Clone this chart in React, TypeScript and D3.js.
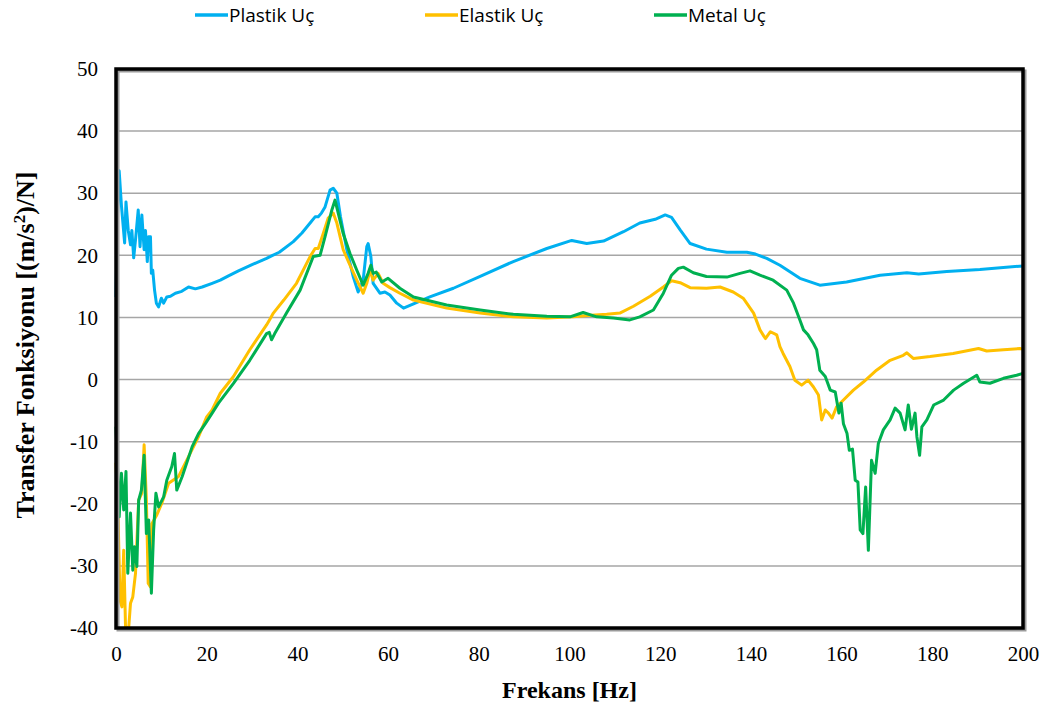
import React, { useEffect, useRef } from 'react'
import * as d3 from 'd3'

const W = 1049
const H = 711

// [frekans (Hz), transfer fonksiyonu]
const plastik: [number, number][] = [
  [0, 13.3], [0.3, 26], [0.7, 33.6], [1.2, 28], [1.9, 22], [2.2, 28.6], [2.7, 24], [3.2, 21.7], [3.5, 24],
  [3.9, 19.6], [4.3, 22.5], [4.9, 27.3], [5.3, 21.4], [5.7, 26.5], [6.2, 20.9], [6.5, 24], [6.9, 19], [7.2, 23],
  [7.6, 23], [7.8, 17.1], [8.1, 17.6], [8.5, 14.4], [8.9, 12.3], [9.4, 11.7], [10, 13.1], [10.5, 12.3], [11.2, 13.3],
  [12, 13.4], [13.1, 13.9], [14.5, 14.2], [16, 14.9], [17.5, 14.6], [19, 14.9], [21.2, 15.5], [23, 16], [24.8, 16.7],
  [27, 17.5], [30, 18.5], [33.2, 19.5], [34.3, 19.9], [36, 20.5], [39.1, 22.2], [41, 23.6], [42.8, 25.2], [43.9, 26.2],
  [44.6, 26.2], [45.3, 26.8], [46.1, 27.8], [47.2, 30.5], [47.9, 30.8], [48.7, 30], [49.5, 26.2], [50.9, 20.9],
  [52.3, 16.6], [53.4, 14.1], [54.5, 16], [55.3, 21.4], [55.6, 21.9], [56.2, 19.8], [56.7, 15.5], [58.2, 13.9],
  [59.3, 14.1], [60.4, 13.6], [61.9, 12.3], [63.4, 11.5], [65.6, 12.2], [69.2, 13.3], [74.4, 14.7], [80.3, 16.6],
  [87.6, 19], [95, 21.1], [100.5, 22.4], [103.8, 21.9], [107.5, 22.3], [111.9, 23.8], [115.5, 25.2], [118.9, 25.8],
  [121.1, 26.5], [122.5, 26.1], [124.4, 24.1], [126.6, 21.9], [130.2, 21], [134.7, 20.5], [139.1, 20.5], [141, 20.2],
  [143.5, 19.5], [146.4, 18.4], [150.8, 16.3], [155.2, 15.2], [161.1, 15.7], [168.5, 16.8], [174.4, 17.2], [177, 17],
  [183.2, 17.4], [190.5, 17.7], [200, 18.3],
]

const elastik: [number, number][] = [
  [0, -13.4], [0.4, -20.5], [0.9, -35.5], [1.3, -36.6], [1.7, -27.5], [2.1, -39.8], [2.8, -40], [3.2, -36], [3.7, -35],
  [4.3, -31.2], [5, -19.4], [5.7, -18.3], [6.2, -10.5], [6.7, -19.4], [7.1, -32.8], [7.6, -33.4], [7.9, -23.2],
  [9, -21.8], [10.1, -19.9], [11.6, -16.7], [13.8, -15.6], [16, -12.4], [18.2, -9.2], [20, -6], [21.2, -4.9],
  [23, -2.2], [25.9, 0.5], [29.5, 4.8], [33.2, 8.8], [34, 9.8], [34.7, 10.7], [37, 12.8], [39.8, 15.5], [42.8, 19.8],
  [43.9, 21.1], [44.6, 21.1], [45.7, 23.5], [46.8, 26], [47.9, 26.8], [48.7, 25.2], [50.1, 20.9], [51.6, 18.4],
  [53.1, 16], [54.5, 13.9], [55.3, 15.5], [56, 17.6], [56.7, 16], [57.8, 17.1], [58.9, 15.5], [60.4, 14.8],
  [62.6, 13.9], [65.6, 12.8], [72.9, 11.5], [80.3, 10.7], [87.6, 10.1], [95, 9.9], [100.8, 10.1], [104, 10.3],
  [108.2, 10.5], [111.1, 10.7], [114.1, 11.8], [117.8, 13.4], [120.7, 14.9], [122.5, 15.9], [124.4, 15.6],
  [126.6, 14.8], [130.2, 14.7], [133.2, 14.9], [136.1, 14.1], [138.3, 13.1], [140.6, 10.7], [142, 8], [143.2, 6.6],
  [144.3, 7.7], [145.7, 7.2], [146.4, 5.3], [147.1, 4.2], [148.6, 2.1], [149.7, -0.1], [151.2, -0.9], [152.6, -0.1],
  [153.8, -1.2], [154.9, -2.5], [155.6, -6.5], [156.4, -4.9], [157.1, -5.4], [157.9, -6.2], [158.9, -4.4],
  [160.4, -3.3], [162.6, -1.7], [164.8, -0.4], [167.7, 1.5], [170.7, 3.1], [173.6, 3.9], [174.4, 4.3], [175.8, 3.4],
  [179.5, 3.7], [184.6, 4.2], [190.2, 5], [192, 4.6], [195.7, 4.8], [199.3, 5], [200, 4.9],
]

const metal: [number, number][] = [
  [0, -7.6], [0.3, -13.4], [0.7, -22.1], [1.2, -15.1], [1.7, -21], [2.2, -14.8], [2.6, -31.2], [3.2, -21.5],
  [3.7, -30.7], [4.1, -26.9], [4.6, -30.1], [5, -19.4], [5.6, -17.8], [6.2, -12.2], [6.7, -24.8], [7.2, -22.6],
  [7.8, -34.4], [8.3, -24.2], [8.8, -18.3], [9.4, -20.5], [10.5, -18.9], [11.2, -16.2], [12.3, -14], [12.9, -11.9],
  [13.4, -17.8], [14.6, -15.6], [16.8, -10.8], [18.2, -8.7], [19.7, -7.1], [21.2, -5.4], [22.6, -3.8], [25.9, -0.6],
  [29.5, 3.1], [33.2, 7.4], [33.8, 7.6], [34.3, 6.4], [35, 7.4], [37.6, 10.7], [40.6, 14.4], [43.5, 19.8], [45, 20],
  [46.1, 23], [47.6, 27.3], [48.3, 28.9], [49, 26.8], [50.1, 23.5], [51.6, 20.3], [53.1, 17.6], [54.5, 15.2],
  [55.6, 17.1], [56.2, 18.4], [56.7, 17.1], [57.4, 17.3], [58.6, 15.7], [60, 16.3], [62.6, 14.7], [65.6, 13.3],
  [72.9, 12], [80.3, 11.2], [87.6, 10.5], [95, 10.2], [100.1, 10.1], [103, 10.8], [106, 10.1], [109.7, 9.9],
  [113.3, 9.6], [115.5, 10.1], [118.5, 11.2], [120.7, 13.9], [122.5, 16.8], [124, 17.9], [125.1, 18.1], [127.3, 17.2],
  [130.2, 16.6], [134.7, 16.5], [137.6, 17.1], [139.8, 17.5], [142, 16.8], [144.9, 16], [147.9, 14.4], [149.4, 12.3],
  [150.8, 9.6], [151.6, 8], [152.6, 7.2], [153.8, 5.8], [154.5, 4.8], [155.2, 1.5], [156.4, 0.5], [157.5, -1.7],
  [158.6, -2], [159.4, -5.4], [159.9, -3.8], [160.4, -7.1], [161.2, -8.7], [161.7, -11.4], [162.4, -11.2],
  [163, -16.2], [163.6, -16.5], [164.1, -24.2], [164.7, -24.8], [165.3, -17.3], [165.9, -27.5], [166.6, -13],
  [167.4, -15.1], [168.1, -10.3], [169.2, -8.1], [170.7, -6.5], [171.8, -4.6], [172.9, -5.4], [174, -8.1],
  [174.7, -4.1], [175.4, -8], [176.2, -5.4], [176.6, -9.2], [177.2, -12.2], [177.7, -7.6], [178.8, -6.5],
  [180.3, -4.1], [182.5, -3.3], [184.7, -1.7], [186.9, -0.6], [189.8, 0.7], [190.5, -0.4], [192.7, -0.6],
  [195.7, 0.2], [198.6, 0.7], [200, 1],
]

const xTicks = [0, 20, 40, 60, 80, 100, 120, 140, 160, 180, 200]
const yTicks = [-40, -30, -20, -10, 0, 10, 20, 30, 40, 50]

const series = [
  { name: 'Plastik Uç', data: plastik, color: '#00B0F0', lx: 195 },
  { name: 'Elastik Uç', data: elastik, color: '#FFC000', lx: 425 },
  { name: 'Metal Uç', data: metal, color: '#00B050', lx: 654 },
]

const margin = { left: 116, right: 26, top: 69, bottom: 83 }

export default function App() {
  const ref = useRef<SVGSVGElement>(null)

  useEffect(() => {
    const svg = d3.select(ref.current)
    svg.selectAll('*').remove()

    const x = d3.scaleLinear().domain([0, 200]).range([margin.left, W - margin.right])
    const y = d3.scaleLinear().domain([-40, 50]).range([H - margin.bottom, margin.top])
    const serif = '"Liberation Serif", "Times New Roman", serif'

    // grid
    svg.append('g')
      .selectAll('line')
      .data(yTicks)
      .enter()
      .append('line')
      .attr('x1', x(0))
      .attr('x2', x(200))
      .attr('y1', d => y(d))
      .attr('y2', d => y(d))
      .attr('stroke', '#a6a6a6')
      .attr('stroke-width', 1.5)

    const line = d3.line<[number, number]>()
      .x(d => x(d[0]))
      .y(d => y(d[1]))

    svg.append('g')
      .selectAll('path')
      .data(series)
      .enter()
      .append('path')
      .attr('d', d => line(d.data))
      .attr('fill', 'none')
      .attr('stroke', d => d.color)
      .attr('stroke-width', 3)
      .attr('stroke-linejoin', 'round')

    // frame with slight shadow
    const fx = x(0), fy = y(50), fw = x(200) - x(0), fh = y(-40) - y(50)
    svg.append('rect')
      .attr('x', fx + 2).attr('y', fy + 2).attr('width', fw).attr('height', fh)
      .attr('fill', 'none').attr('stroke', '#9a9a9a').attr('stroke-width', 3)
    svg.append('rect')
      .attr('x', fx).attr('y', fy).attr('width', fw).attr('height', fh)
      .attr('fill', 'none').attr('stroke', '#000').attr('stroke-width', 3.5)

    // axes (plain hyphen minus like the original)
    const fmt = (d: d3.NumberValue) => String(d)
    const yAxis = svg.append('g')
      .attr('transform', `translate(${x(0)},0)`)
      .call(d3.axisLeft(y).tickValues(yTicks).tickFormat(fmt).tickSize(0).tickPadding(18))
    yAxis.select('.domain').remove()
    yAxis.selectAll('text')
      .style('font-family', serif)
      .style('font-size', '21px')
      .attr('fill', '#000')

    const xAxis = svg.append('g')
      .attr('transform', `translate(0,${y(-40)})`)
      .call(d3.axisBottom(x).tickValues(xTicks).tickFormat(fmt).tickSize(0).tickPadding(18))
    xAxis.select('.domain').remove()
    xAxis.selectAll('text')
      .style('font-family', serif)
      .style('font-size', '21px')
      .attr('fill', '#000')

    svg.append('text')
      .attr('x', (x(0) + x(200)) / 2)
      .attr('y', 698)
      .attr('text-anchor', 'middle')
      .style('font-family', serif)
      .style('font-weight', 'bold')
      .style('font-size', '24px')
      .text('Frekans [Hz]')

    const yl = svg.append('text')
      .attr('transform', `translate(34,345) rotate(-90)`)
      .attr('text-anchor', 'middle')
      .style('font-family', serif)
      .style('font-weight', 'bold')
      .style('font-size', '26px')
    yl.append('tspan').text('Transfer Fonksiyonu  [(m/s')
    yl.append('tspan').attr('dy', -9).style('font-size', '17px').text('2')
    yl.append('tspan').attr('dy', 9).text(')/N]')

    // legend
    const lg = svg.append('g')
    series.forEach(s => {
      lg.append('line')
        .attr('x1', s.lx).attr('x2', s.lx + 33)
        .attr('y1', 15).attr('y2', 15)
        .attr('stroke', s.color).attr('stroke-width', 3.5)
      lg.append('text')
        .attr('x', s.lx + 34)
        .attr('y', 22)
        .style('font-family', '"Liberation Sans Narrow", "Open Sans", sans-serif')
        .style('font-size', '19px')
        .text(s.name)
    })
  }, [])

  return (
    <svg
      ref={ref}
      width={W}
      height={H}
      style={{ position: 'absolute', left: 0, top: 0, background: '#fff' }}
    />
  )
}
